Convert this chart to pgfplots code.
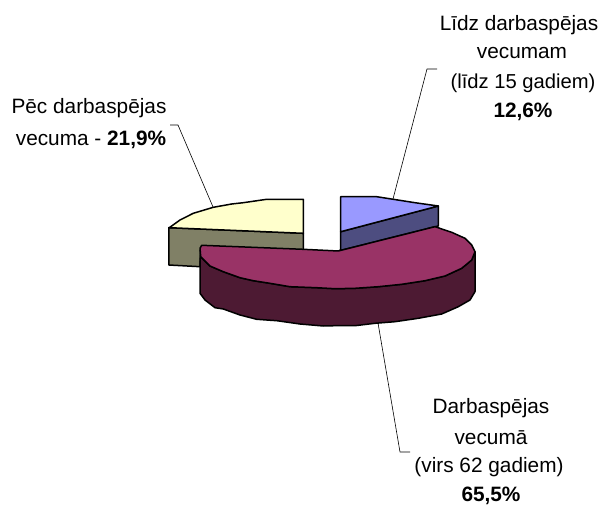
\documentclass[border=0pt]{standalone}
\usepackage{fontspec}
\setmainfont{Liberation Sans}
\usepackage{pgfplots}
\pgfplotsset{compat=1.18}
\definecolor{cBlue}{HTML}{9999FF}
\definecolor{cBlueD}{HTML}{4D4D80}
\definecolor{cYel}{HTML}{FFFFCC}
\definecolor{cYelD}{HTML}{808066}
\definecolor{cMag}{HTML}{993366}
\definecolor{cMagD}{HTML}{4D1A33}
\tikzset{lab/.style={font=\fontsize{20.8}{24}\selectfont,inner sep=0pt,anchor=center}}
\begin{document}
\begin{tikzpicture}
\begin{axis}[
  width=600pt,height=505pt,scale only axis,
  xmin=0,xmax=600,ymin=0,ymax=505,y dir=reverse,
  hide axis,clip=false,
  every axis plot/.append style={line join=round,line width=1.5pt,mark=none,sharp plot}
]
\path (axis cs:0,0) rectangle (axis cs:600,505);
% yellow slice side and top
\addplot[fill=cYelD,draw=black] coordinates {(168.8,227.7)(303.3,233.3)(303.3,250)(200.7,250)(200,266.7)(168.8,265)} --cycle;
\addplot[fill=cYel,draw=black] coordinates {(303.3,199.3)(266.7,199.3)(243.3,202.7)(231.7,204)(213.3,207.3)(193.3,213.3)(180,220)(169.3,227.7)(303.3,233.3)} --cycle;
% blue slice side and top
\addplot[fill=cBlueD,draw=black] coordinates {(340.7,231.7)(438.3,206)(438.3,226)(435,226.7)(338.3,251)(340.7,250)} --cycle;
\addplot[fill=cBlue,draw=black] coordinates {(340.7,196.7)(376.7,196.7)(393.3,199.3)(415,202.7)(438.3,206)(340.7,231.7)} --cycle;
% magenta slice side and top
\addplot[fill=cMagD,draw=black] coordinates {(200.3,250)(200.7,256.7)(210,266)(223.3,271.7)(240,277.7)(253.3,280.7)(270,283.3)(290,286.7)(316.7,287.7)(335,288.7)(355,288.3)(378.3,286.7)(401.7,284.3)(425,280.7)(445,276)(461.7,268.3)(471.7,260)(475,251.7)(475,291.7)(470,300)(458.3,306.7)(441.7,314)(418.3,318.3)(395,321.7)(375,323.3)(355,325.7)(335,325.7)(323.3,326)(300,324)(276.7,320.7)(256.7,319.3)(240,315)(223.3,309)(215,307.7)(205,300)(200,293.3)} --cycle;
\addplot[fill=cMag,draw=black] coordinates {(201.7,245.3)(303.3,249.3)(338.3,251)(435,226.7)(451.7,232.3)(465,238.3)(471.7,245)(475,251.7)(471.7,260)(461.7,268.3)(445,276)(425,280.7)(401.7,284.3)(378.3,286.7)(355,288.3)(335,288.7)(316.7,287.7)(290,286.7)(270,283.3)(253.3,280.7)(240,277.7)(223.3,271.7)(210,266)(200.7,256.7)(200,248.3)} --cycle;
% leader lines
\addplot[black,line width=0.6pt] coordinates {(393,199)(427,69)(437,69)};
\addplot[black,line width=0.6pt] coordinates {(213,207)(178,125)(170,125)};
\addplot[black,line width=0.6pt] coordinates {(378,323)(400,452)(410,452)};
% labels
\node[lab] at (axis cs:519,25) {Līdz darbaspējas};
\node[lab] at (axis cs:522,53) {vecumam};
\node[lab,font=\fontsize{20.2}{24}\selectfont] at (axis cs:523,83) {(līdz 15 gadiem)};
\node[lab] at (axis cs:523,112) {\bfseries 12,6\%};
\node[lab] at (axis cs:89,108) {Pēc darbaspējas};
\node[lab] at (axis cs:91,140) {vecuma - \bfseries 21,9\%};
\node[lab] at (axis cs:491,408) {Darbaspējas};
\node[lab] at (axis cs:491,438) {vecumā};
\node[lab] at (axis cs:489,467) {(virs 62 gadiem)};
\node[lab] at (axis cs:491,496) {\bfseries 65,5\%};
\end{axis}
\end{tikzpicture}
\end{document}
